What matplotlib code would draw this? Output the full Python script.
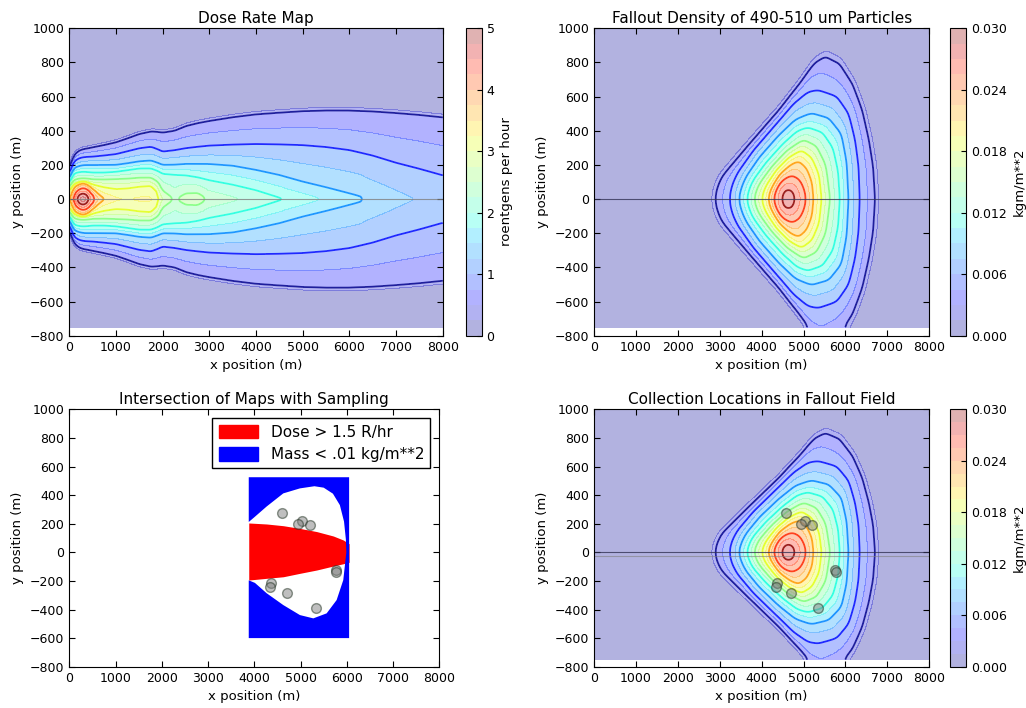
"""
Dose rate / fallout density maps with sampling locations
"""
import numpy as np
import matplotlib
matplotlib.use("Agg")
import matplotlib.pyplot as plt
from matplotlib.patches import Patch, PathPatch
from matplotlib.path import Path

# ---------------- dose rate map (R/hr) ----------------
dose_x = [0, 100, 200, 300, 400, 500, 750, 1000, 1250, 1500, 1750, 1900, 2000,
          2250, 2500, 2750, 3000, 3500, 4000, 4500, 5000, 5500, 6000, 6500, 7000,
          7500, 8000]
dose_center = [3.4, 4.1, 4.7, 5.0, 4.6, 4.1, 3.5, 3.3, 3.25, 3.3, 3.3, 3.05, 2.75,
               2.45, 2.6, 2.6, 2.45, 2.3, 2.15, 2.02, 1.88, 1.72, 1.58, 1.44, 1.33,
               1.23, 1.15]
dose_line_levels = [0.5, 1.0, 1.5, 2.0, 2.5, 3.0, 3.5, 4.0, 4.5]
# half widths (m) of each dose contour along x
dose_w05 = [190, 260, 285, 295, 300, 306, 320, 336, 360, 385, 400, 398, 394, 405,
            433, 450, 463, 485, 502, 512, 521, 525, 525, 520, 511, 500, 486]
dose_w10 = [150, 220, 238, 245, 247, 248, 255, 263, 280, 297, 306, 290, 277, 285,
            297, 305, 312, 318, 322, 320, 316, 305, 287, 255, 213, 178, 140]
dose_w15 = [120, 180, 192, 198, 199, 199, 199, 199, 208, 219, 224, 210, 199, 200,
            205, 205, 205, 195, 170, 140, 101, 68, 33, 0, 0, 0, 0]
dose_w20 = [100, 150, 158, 160, 158, 155, 155, 160, 170, 180, 180, 165, 150, 145,
            140, 128, 111, 85, 53, 10, 0, 0, 0, 0, 0, 0, 0]
dose_w25 = [70, 110, 118, 120, 118, 115, 115, 118, 120, 125, 125, 100, 50, 0,
            35, 38, 0, 0, 0, 0, 0, 0, 0, 0, 0, 0, 0]
dose_w30 = [50, 85, 95, 100, 95, 85, 70, 60, 65, 75, 80, 40, 0, 0,
            0, 0, 0, 0, 0, 0, 0, 0, 0, 0, 0, 0, 0]
dose_w35 = [0, 70, 90, 100, 85, 60, 0, 0, 0, 0, 0, 0, 0, 0,
            0, 0, 0, 0, 0, 0, 0, 0, 0, 0, 0, 0, 0]
dose_w40 = [0, 25, 55, 65, 55, 25, 0, 0, 0, 0, 0, 0, 0, 0,
            0, 0, 0, 0, 0, 0, 0, 0, 0, 0, 0, 0, 0]
dose_w45 = [0, 0, 25, 35, 20, 0, 0, 0, 0, 0, 0, 0, 0, 0,
            0, 0, 0, 0, 0, 0, 0, 0, 0, 0, 0, 0, 0]

# ---------------- fallout density (kg/m**2), contour outlines (upper half) ----------------
dens_center_x = 4640
dens_peak = 0.029
dens_line_levels = [0.003, 0.006, 0.009, 0.012, 0.015, 0.018, 0.021, 0.024, 0.027]
dens_003_x = [2870, 2920, 3050, 3320, 3840, 4400, 4880, 5230, 5510, 5870, 6190, 6420, 6580, 6680, 6727]
dens_003_y = [0, 70, 140, 215, 360, 520, 677, 804, 849, 804, 677, 521, 345, 189, 0]
dens_006_x = [3245, 3290, 3420, 3800, 4280, 4755, 5100, 5350, 5790, 6070, 6225, 6305, 6330]
dens_006_y = [0, 70, 150, 287, 424, 560, 625, 634, 599, 502, 345, 189, 0]
dens_009_x = [3460, 3510, 3630, 3950, 4400, 4800, 5190, 5600, 5900, 6020, 6065]
dens_009_y = [0, 60, 130, 245, 370, 460, 498, 470, 380, 220, 0]
dens_012_x = [3650, 3700, 3800, 4100, 4500, 4850, 5100, 5450, 5700, 5830, 5869]
dens_012_y = [0, 55, 110, 210, 320, 400, 420, 390, 300, 160, 0]
dens_015_x = [3820, 3870, 3960, 4250, 4600, 5000, 5300, 5520, 5630]
dens_015_y = [0, 50, 95, 190, 280, 345, 310, 200, 0]
dens_018_x = [4005, 4050, 4120, 4350, 4650, 4950, 5200, 5370, 5431]
dens_018_y = [0, 45, 85, 170, 245, 287, 240, 140, 0]
dens_021_x = [4163, 4200, 4270, 4450, 4700, 4880, 5080, 5200, 5233]
dens_021_y = [0, 40, 75, 150, 205, 228, 180, 100, 0]
dens_024_x = [4280, 4310, 4380, 4500, 4700, 4900, 5020, 5070]
dens_024_y = [0, 40, 80, 115, 140, 115, 60, 0]
dens_027_x = [4470, 4520, 4630, 4740, 4800]
dens_027_y = [0, 45, 60, 45, 0]

# ---------------- intersection panel ----------------
box_x = [3880, 6050, 6050, 3880]
box_y = [-600, -600, 525, 525]
egg_upper_x = [5990, 5980, 5940, 5850, 5700, 5500, 5300, 4987, 4627, 4266, 4000, 3880]
egg_upper_y = [0, 90, 215, 330, 410, 452, 462, 447, 412, 320, 245, 212]
egg_lower_x = [3880, 4014, 4266, 4627, 4987, 5276, 5564, 5780, 5924, 5990]
egg_lower_y = [-196, -214, -286, -369, -439, -462, -427, -334, -194, 0]
red_x = [3880, 4266, 4627, 4987, 5348, 5708, 5924, 6050]
red_hi = [205, 198, 186, 167, 145, 114, 86, 60]
red_lo = [-194, -182, -171, -147, -124, -96, -80, -70]

# sample (collection) locations
sample_x = [4590, 5030, 4940, 5210, 5760, 5770, 4370, 4350, 4700, 5340]
sample_y = [278, 218, 197, 193, -125, -140, -215, -245, -285, -393]

grid_x = np.linspace(0, 8000, 401)
grid_y = np.linspace(-750, 1000, 351)


def smooth(z, nx, ny):
    kx = np.ones(nx) / nx
    ky = np.ones(ny) / ny
    zp = np.pad(z, ((ny // 2, ny // 2), (nx // 2, nx // 2)), mode="edge")
    zp = np.apply_along_axis(lambda r: np.convolve(r, kx, mode="valid"), 1, zp)
    zp = np.apply_along_axis(lambda c: np.convolve(c, ky, mode="valid"), 0, zp)
    return zp


def densify(px, py, n=25):
    # put extra points on each straight segment of an outline
    px, py = np.asarray(px, float), np.asarray(py, float)
    t = np.linspace(0, 1, n, endpoint=False)
    xs = [px[i] + (px[i + 1] - px[i]) * t for i in range(len(px) - 1)]
    ys = [py[i] + (py[i + 1] - py[i]) * t for i in range(len(py) - 1)]
    return np.append(np.concatenate(xs), px[-1]), np.append(np.concatenate(ys), py[-1])


def dose_field(gx, gy):
    widths = [dose_w05, dose_w10, dose_w15, dose_w20, dose_w25,
              dose_w30, dose_w35, dose_w40, dose_w45]
    z = np.zeros((len(gy), len(gx)))
    for j, xv in enumerate(gx):
        c = np.interp(xv, dose_x, dose_center)
        hs, vs = [0.0], [c]
        for lev, w in zip(dose_line_levels, widths):
            h = np.interp(xv, dose_x, w)
            if h > 0 and lev < c:
                hs.append(h)
                vs.append(lev)
        order = np.argsort(hs)
        hs = np.array(hs)[order]
        vs = np.array(vs)[order]
        hs = np.append(hs, hs[-1] + 20)
        vs = np.append(vs, 0.05)
        z[:, j] = np.interp(np.abs(gy), hs, vs)
    return z


def density_field(gx, gy, yk=3.0):
    lines = [(dens_003_x, dens_003_y), (dens_006_x, dens_006_y), (dens_009_x, dens_009_y),
             (dens_012_x, dens_012_y), (dens_015_x, dens_015_y), (dens_018_x, dens_018_y),
             (dens_021_x, dens_021_y), (dens_024_x, dens_024_y), (dens_027_x, dens_027_y)]
    X, Y = np.meshgrid(gx, gy)
    dx = X - dens_center_x
    dy = np.abs(Y) * yk
    r = np.hypot(dx, dy)
    th = np.arctan2(dy, dx)
    radii = []
    for px, py in lines:
        px, py = densify(px, py)
        ddx = px - dens_center_x
        ddy = py * yk
        t = np.arctan2(ddy, ddx)
        rr = np.hypot(ddx, ddy)
        o = np.argsort(t)
        radii.append(np.interp(th, t[o], rr[o]))
    rs = [np.zeros_like(r)] + radii[::-1] + [radii[0] + 120]
    # keep the rings nested
    for i in range(1, len(rs)):
        rs[i] = np.maximum(rs[i], rs[i - 1] + 1.0)
    vs = [dens_peak] + dens_line_levels[::-1] + [0.0005]
    z = np.zeros_like(r)
    for i in range(len(rs) - 1):
        r0, r1 = rs[i], rs[i + 1]
        m = (r >= r0) & (r < r1)
        t = (r - r0) / (r1 - r0)
        z[m] = vs[i] + (vs[i + 1] - vs[i]) * t[m]
    return smooth(z, 9, 15)


def style_axes(ax, title):
    ax.set_xlim(0, 8000)
    ax.set_ylim(-800, 1000)
    ax.set_xticks(np.arange(0, 8001, 1000))
    ax.set_yticks(np.arange(-800, 1001, 200))
    ax.tick_params(direction="in", top=True, right=True, length=4, labelsize=9)
    ax.set_xlabel("x position (m)", fontsize=9.5)
    ax.set_ylabel("y position (m)", fontsize=9.5)
    ax.set_title(title, fontsize=11, pad=4)


def draw_density(ax, cax, z, title):
    fill_levels = np.linspace(0, 0.03, 21)
    cf = ax.contourf(grid_x, grid_y, z, levels=fill_levels, cmap="jet", alpha=0.3)
    ax.contour(grid_x, grid_y, z, levels=dens_line_levels, cmap="jet",
               alpha=0.75, linewidths=1.3)
    ax.axhline(0, color="#333355", lw=0.8, alpha=0.8)
    cb = fig.colorbar(cf, cax=cax, ticks=np.linspace(0, 0.03, 6), format="%.3f")
    cb.ax.tick_params(direction="in", labelsize=9)
    cb.set_label("kgm/m**2", fontsize=9.5)
    style_axes(ax, title)
    return cb


W, H = 1026, 708


def box(left, top, right, bottom):
    return [left / W, 1 - bottom / H, (right - left) / W, (bottom - top) / H]


fig = plt.figure(figsize=(W / 100, H / 100), dpi=100)
ax1 = fig.add_axes(box(69.3, 28.3, 442.7, 335.7))
cax1 = fig.add_axes(box(465.7, 28.3, 481.7, 335.7))
ax2 = fig.add_axes(box(594, 28.3, 929.3, 335.7))
cax2 = fig.add_axes(box(950, 28.3, 966, 335.7))
ax3 = fig.add_axes(box(69.3, 409.3, 439.3, 666.7))
ax4 = fig.add_axes(box(594, 409.3, 929.3, 666.7))
cax4 = fig.add_axes(box(950, 409.3, 966, 666.7))

# dose rate map
dose = smooth(dose_field(grid_x, grid_y), 5, 5)
cf1 = ax1.contourf(grid_x, grid_y, dose, levels=np.linspace(0, 5, 21), cmap="jet", alpha=0.3)
ax1.contour(grid_x, grid_y, dose, levels=dose_line_levels, cmap="jet", alpha=0.75, linewidths=1.3)
ax1.axhline(0, color="gray", lw=0.8, alpha=0.8)
cb1 = fig.colorbar(cf1, cax=cax1, ticks=np.arange(0, 6))
cb1.ax.tick_params(direction="in", labelsize=9)
cb1.set_label("roentgens per hour", fontsize=9.5)
style_axes(ax1, "Dose Rate Map")

# fallout density
dens = density_field(grid_x, grid_y)
draw_density(ax2, cax2, dens, "Fallout Density of 490-510 um Particles")

# intersection of maps: red dose region, blue low-mass region on top of it
ax3.fill_between(red_x, red_lo, red_hi, color="red", lw=0)
hole_x = (egg_upper_x + egg_lower_x)[::-1]
hole_y = (egg_upper_y + egg_lower_y)[::-1]
verts = list(zip(box_x, box_y)) + [(box_x[0], box_y[0])]
codes = [Path.MOVETO] + [Path.LINETO] * (len(box_x) - 1) + [Path.CLOSEPOLY]
verts += list(zip(hole_x, hole_y)) + [(hole_x[0], hole_y[0])]
codes += [Path.MOVETO] + [Path.LINETO] * (len(hole_x) - 1) + [Path.CLOSEPOLY]
ax3.add_patch(PathPatch(Path(verts, codes), facecolor="blue", edgecolor="none"))
ax3.plot(sample_x, sample_y, "o", ms=7, mfc="gray", mec="#203020", alpha=0.5)
leg = ax3.legend(handles=[Patch(color="red", label="Dose > 1.5 R/hr"),
                          Patch(color="blue", label="Mass < .01 kg/m**2")],
                 loc="upper right", fontsize=11, fancybox=False, framealpha=1,
                 handlelength=2.6, handleheight=1.0, borderaxespad=0.6)
leg.get_frame().set_edgecolor("black")
style_axes(ax3, "Intersection of Maps with Sampling")

# collection locations over fallout field
draw_density(ax4, cax4, dens, "Collection Locations in Fallout Field")
ax4.axhline(-25, color="gray", lw=0.8, alpha=0.6)
ax4.plot(sample_x, sample_y, "o", ms=7, mfc="gray", mec="#203020", alpha=0.5)

plt.savefig("out.png", dpi=100)
